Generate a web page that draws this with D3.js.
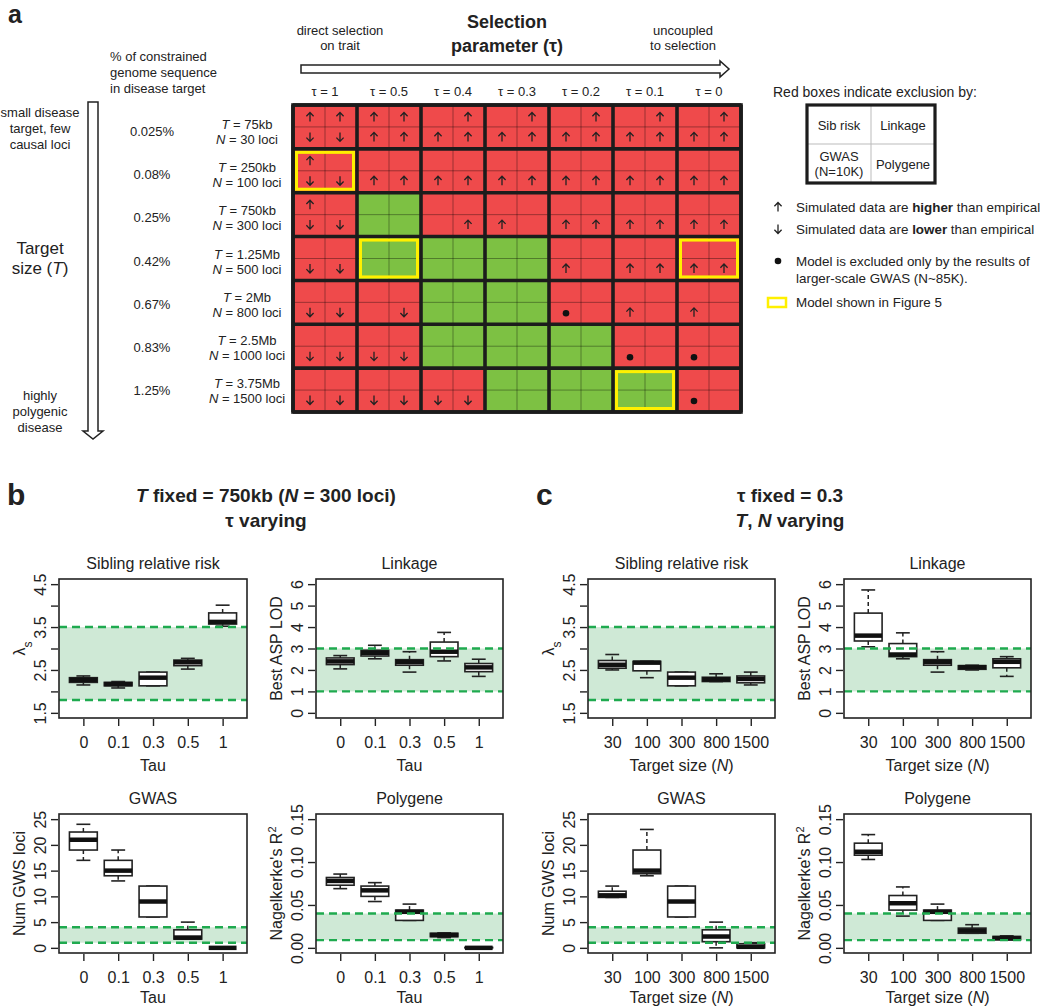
<!DOCTYPE html>
<html><head><meta charset="utf-8">
<script src="https://cdn.jsdelivr.net/npm/d3@7"></script>
<style>
body{margin:0;background:#fff}
text{font-family:"Liberation Sans",Arial,Helvetica,sans-serif;fill:#222}
</style>
</head><body>
<svg id="chart" width="1050" height="1006" xmlns="http://www.w3.org/2000/svg"></svg>
<script>
// ---------------- DATA ----------------
// Panel a
const taus = ["1","0.5","0.4","0.3","0.2","0.1","0"];
const pctLabels = ["0.025%","0.08%","0.25%","0.42%","0.67%","0.83%","1.25%"];
const tLabels = ["75kb","250kb","750kb","1.25Mb","2Mb","2.5Mb","3.75Mb"];
const nLabels = ["30","100","300","500","800","1000","1500"];
// "G" = not excluded (green); otherwise red, 4 subcells: Sib risk, Linkage, GWAS, Polygene
// u = higher than empirical, d = lower, o = excluded only by larger GWAS, - = nothing
const cellCodes = [
  ["uudd","uuuu","-uuu","-uuu","-uuu","-uuu","-uuu"],
  ["u-dd","--uu","--uu","--uu","--uu","--uu","--uu"],
  ["u-dd","G",   "---u","--u-","--uu","--uu","--uu"],
  ["--dd","G",   "G",   "G",   "--u-","--uu","--uu"],
  ["--dd","---d","G",   "G",   "--o-","--u-","--u-"],
  ["--dd","--dd","G",   "G",   "G",   "--o-","--o-"],
  ["--dd","--dd","--dd","G",   "G",   "G",   "--o-"]
];
const fig5Models = [[1,0],[3,1],[3,6],[6,5]]; // [row, column]
const legendCells = [["Sib risk"],["Linkage"],["GWAS","(N=10K)"],["Polygene"]];

// Panels b, c : [lower whisker, Q1, median, Q3, upper whisker]
const tauTicks = ["0","0.1","0.3","0.5","1"];
const sizeTicks = ["30","100","300","800","1500"];

const bSibling = [[2.15,2.21,2.27,2.32,2.36],[2.08,2.13,2.17,2.21,2.23],[2.13,2.13,2.32,2.45,2.45],[2.52,2.60,2.68,2.73,2.77],[3.52,3.57,3.62,3.83,4.01]];
const bLinkage = [[2.05,2.25,2.40,2.56,2.67],[2.52,2.65,2.80,2.92,3.15],[1.90,2.22,2.37,2.48,2.85],[2.42,2.62,2.85,3.30,3.75],[1.70,1.92,2.12,2.30,2.50]];
const bGwas = [[17,19,21,22.5,24],[13,14,15,17,19],[6,6,9,12,12],[1.7,1.7,2,3.5,5],[0,0,0,0,0]];
const bPolygene = [[0.069,0.073,0.078,0.082,0.086],[0.054,0.060,0.067,0.072,0.076],[0.032,0.032,0.042,0.044,0.051],[0.012,0.013,0.015,0.017,0.0175],[0,0,0,0.0005,0.0005]];

const cSibling = [[2.50,2.54,2.62,2.72,2.86],[2.32,2.48,2.67,2.70,2.70],[2.13,2.13,2.32,2.45,2.45],[2.23,2.23,2.28,2.33,2.41],[2.15,2.20,2.29,2.36,2.45]];
const cLinkage = [[3.08,3.35,3.60,4.65,5.73],[2.52,2.62,2.72,3.23,3.73],[1.90,2.22,2.37,2.48,2.85],[2.00,2.03,2.13,2.20,2.22],[1.70,2.10,2.38,2.52,2.62]];
const cGwas = [[9.8,9.8,10.2,11,12],[14,14.4,15,19,23],[6,6,9,12,12],[0,1.2,2.2,3.5,5],[0,0,0.2,0.8,1]];
const cPolygene = [[0.103,0.108,0.112,0.122,0.132],[0.037,0.044,0.052,0.061,0.071],[0.032,0.032,0.042,0.044,0.051],[0.017,0.017,0.020,0.023,0.027],[0.0094,0.0094,0.0113,0.0133,0.014]];

const sibBand = [1.8,3.5], linkBand = [1,3], gwasBand = [1,4], polyBand = [0.009,0.04];
const sibDomain = [1.5,4.5], linkDomain = [0,6], gwasDomain = [0,25], polyDomain = [0,0.15];
const sibTicks = [1.5,2,2.5,3,3.5,4,4.5], sibTickLabels = ["1.5","","2.5","","3.5","","4.5"];
const linkTicks = [0,1,2,3,4,5,6], linkTickLabels = ["0","1","2","3","4","5","6"];
const gwasTicks = [0,5,10,15,20,25], gwasTickLabels = ["0","5","10","15","20","25"];
const polyTicks = [0,0.05,0.10,0.15], polyTickLabels = ["0.00","0.05","0.10","0.15"];

// ---------------- STYLE ----------------
const INK = "#222", RED = "#ef4a4b", GREEN = "#7dc143", YELLOW = "#fff000";
const BAND = "#cfe9d6", DASH = "#1faa4f";
const svg = d3.select("#chart");

function txt(g, x, y, s, opt = {}) {
  const t = g.append("text").attr("x", x).attr("y", y)
    .attr("font-size", opt.size || 13)
    .attr("text-anchor", opt.anchor || "middle");
  if (opt.weight) t.attr("font-weight", opt.weight);
  if (Array.isArray(s)) {
    s.forEach(p => {
      const sp = t.append("tspan").text(p.t);
      if (p.i) sp.attr("font-style", "italic");
      if (p.b) sp.attr("font-weight", "bold");
      if (p.sub) sp.attr("baseline-shift", "sub").attr("font-size", p.sub);
      if (p.sup) sp.attr("baseline-shift", "super").attr("font-size", p.sup);
    });
  } else t.text(s);
  return t;
}

function arrowGlyph(g, cx, cy, dir) {
  const s = dir === "u" ? -1 : 1;
  const tip = cy + 4.5 * s;
  g.append("path")
    .attr("d", `M${cx},${cy - 4.5 * s}L${cx},${tip}` +
               `M${cx - 3.6},${tip - 3.8 * s}L${cx},${tip}L${cx + 3.6},${tip - 3.8 * s}`)
    .attr("fill", "none").attr("stroke", INK).attr("stroke-width", 1.3);
}

// ---------------- PANEL A ----------------
const A = svg.append("g");
txt(A, 8, 23, "a", {size: 25, weight: "bold", anchor: "start"});

const gx = d3.scaleBand().domain(taus).range([293, 741]);
const gy = d3.scaleBand().domain(tLabels).range([105, 412]);
const labelY = d3.scaleBand().domain(tLabels).range([109, 412]);
const cw = gx.bandwidth(), ch = gy.bandwidth();

// header
txt(A, 507, 28, "Selection", {size: 18, weight: "bold"});
txt(A, 507, 52, "parameter (τ)", {size: 18, weight: "bold"});
txt(A, 340, 35, "direct selection", {size: 13});
txt(A, 340, 50, "on trait", {size: 13});
txt(A, 683, 35, "uncoupled", {size: 13});
txt(A, 683, 50, "to selection", {size: 13});
A.append("path").attr("d", "M301,65L720,65L720,61L729,69L720,77L720,73L301,73Z")
  .attr("fill", "#fff").attr("stroke", INK).attr("stroke-width", 1.5);
taus.forEach(t => txt(A, gx(t) + cw / 2, 96, "τ = " + t, {size: 13}));

// left labels
["% of constrained", "genome sequence", "in disease target"].forEach((s, i) =>
  txt(A, 110, 61 + i * 16, s, {size: 13, anchor: "start"}));
["small disease", "target, few", "causal loci"].forEach((s, i) =>
  txt(A, 40, 117 + i * 16, s, {size: 13}));
txt(A, 40, 254, "Target", {size: 17});
txt(A, 40, 274, [{t: "size ("}, {t: "T", i: true}, {t: ")"}], {size: 17});
["highly", "polygenic", "disease"].forEach((s, i) =>
  txt(A, 40, 400 + i * 16, s, {size: 13}));
A.append("path").attr("d", "M88,102L98,102L98,431L103,431L93,439L83,431L88,431Z")
  .attr("fill", "#fff").attr("stroke", INK).attr("stroke-width", 1.5);

tLabels.forEach((t, i) => {
  const cy = labelY(t) + labelY.bandwidth() / 2;
  txt(A, 152, cy + 5, pctLabels[i], {size: 13});
  txt(A, 247, cy - 2, [{t: "T", i: true}, {t: " = " + t}], {size: 13});
  txt(A, 247, cy + 13, [{t: "N", i: true}, {t: " = " + nLabels[i] + " loci"}], {size: 13});
});

// cells
const grid = A.append("g");
cellCodes.forEach((row, ri) => row.forEach((code, ci) => {
  const x = gx(taus[ci]), y = gy(tLabels[ri]);
  const green = code === "G";
  grid.append("rect").attr("x", x).attr("y", y).attr("width", cw).attr("height", ch)
    .attr("fill", green ? GREEN : RED);
  grid.append("line").attr("x1", x + cw / 2).attr("x2", x + cw / 2).attr("y1", y).attr("y2", y + ch)
    .attr("stroke", "rgba(0,0,0,0.35)").attr("stroke-width", 1);
  grid.append("line").attr("x1", x).attr("x2", x + cw).attr("y1", y + ch / 2).attr("y2", y + ch / 2)
    .attr("stroke", "rgba(0,0,0,0.35)").attr("stroke-width", 1);
  if (!green) code.split("").forEach((m, k) => {
    const cx = x + (k % 2 + 0.5) * cw / 2 + (k % 2 ? -1 : 1);
    const cy = y + (Math.floor(k / 2) + 0.5) * ch / 2 + (k < 2 ? 1 : -1);
    if (m === "u" || m === "d") arrowGlyph(grid, cx, cy, m);
    else if (m === "o") grid.append("circle").attr("cx", cx).attr("cy", cy + 1).attr("r", 3.3).attr("fill", "#111");
  });
}));
// thick borders
const gxEdges = taus.map(t => gx(t)).concat([gx.range()[1]]);
const gyEdges = tLabels.map(t => gy(t)).concat([gy.range()[1]]);
gxEdges.forEach(xx => grid.append("line").attr("x1", xx).attr("x2", xx).attr("y1", 105).attr("y2", 412)
  .attr("stroke", "#1c1c1c").attr("stroke-width", 3.6));
gyEdges.forEach(yy => grid.append("line").attr("x1", 293).attr("x2", 741).attr("y1", yy).attr("y2", yy)
  .attr("stroke", "#1c1c1c").attr("stroke-width", 3.6));
grid.append("rect").attr("x", 293).attr("y", 105).attr("width", 448).attr("height", 307)
  .attr("fill", "none").attr("stroke", "#1c1c1c").attr("stroke-width", 3.6);
fig5Models.forEach(([r, c]) => {
  grid.append("rect").attr("x", gx(taus[c]) + 3.5).attr("y", gy(tLabels[r]) + 3.5)
    .attr("width", cw - 7).attr("height", ch - 7)
    .attr("fill", "none").attr("stroke", YELLOW).attr("stroke-width", 3);
});

// legend
const L = svg.append("g");
txt(L, 773, 97, "Red boxes indicate exclusion by:", {size: 14, anchor: "start"});
const lx = d3.scaleBand().domain([0, 1]).range([807, 935]);
const ly = d3.scaleBand().domain([0, 1]).range([105, 183]);
L.append("line").attr("x1", lx(1)).attr("x2", lx(1)).attr("y1", 105).attr("y2", 183).attr("stroke", "#bbb");
L.append("line").attr("x1", 807).attr("x2", 935).attr("y1", ly(1)).attr("y2", ly(1)).attr("stroke", "#bbb");
L.append("rect").attr("x", 807).attr("y", 105).attr("width", 128).attr("height", 78)
  .attr("fill", "none").attr("stroke", "#1c1c1c").attr("stroke-width", 3.2);
legendCells.forEach((lines, k) => {
  const cx = lx(k % 2) + lx.bandwidth() / 2, cy = ly(Math.floor(k / 2)) + ly.bandwidth() / 2;
  lines.forEach((s, j) => txt(L, cx, cy + 5 + (j - (lines.length - 1) / 2) * 15, s, {size: 13}));
});
arrowGlyph(L, 778, 207, "u");
txt(L, 796, 212, [{t: "Simulated data are "}, {t: "higher", b: true}, {t: " than empirical"}], {size: 13.4, anchor: "start"});
arrowGlyph(L, 778, 229, "d");
txt(L, 796, 234, [{t: "Simulated data are "}, {t: "lower", b: true}, {t: " than empirical"}], {size: 13.4, anchor: "start"});
L.append("circle").attr("cx", 778).attr("cy", 261).attr("r", 3.3).attr("fill", "#111");
txt(L, 796, 266, "Model is excluded only by the results of", {size: 13.4, anchor: "start"});
txt(L, 796, 283, "larger-scale GWAS (N~85K).", {size: 13.4, anchor: "start"});
L.append("rect").attr("x", 768).attr("y", 298).attr("width", 18).attr("height", 9)
  .attr("fill", "none").attr("stroke", YELLOW).attr("stroke-width", 2.5);
txt(L, 796, 307, "Model shown in Figure 5", {size: 13.4, anchor: "start"});

// ---------------- PANELS B, C ----------------
function boxPanel(o) {
  const g = svg.append("g");
  const x = d3.scaleLinear().domain([0.3, 5.7]).range([o.x0, o.x1]);
  const pad = (o.domain[1] - o.domain[0]) * 0.04;
  const y = d3.scaleLinear().domain([o.domain[0] - pad, o.domain[1] + pad]).range([o.y1, o.y0]);
  g.append("rect").attr("x", o.x0).attr("width", o.x1 - o.x0)
    .attr("y", y(o.band[1])).attr("height", y(o.band[0]) - y(o.band[1])).attr("fill", BAND);
  const hw = x(1.4) - x(1), sw = x(1.2) - x(1);
  o.data.forEach((s, i) => {
    const cx = x(i + 1);
    [[s[3], s[4]], [s[1], s[0]]].forEach(([a, b]) => {
      if (a !== b) g.append("line").attr("x1", cx).attr("x2", cx).attr("y1", y(a)).attr("y2", y(b))
        .attr("stroke", INK).attr("stroke-width", 1.5).attr("stroke-dasharray", "4,3");
    });
    [s[0], s[4]].forEach(v => g.append("line").attr("x1", cx - sw).attr("x2", cx + sw)
      .attr("y1", y(v)).attr("y2", y(v)).attr("stroke", INK).attr("stroke-width", 1.6));
    g.append("rect").attr("x", cx - hw).attr("width", 2 * hw)
      .attr("y", y(s[3])).attr("height", Math.max(0, y(s[1]) - y(s[3])))
      .attr("fill", "#fff").attr("stroke", INK).attr("stroke-width", 1.6);
    g.append("line").attr("x1", cx - hw).attr("x2", cx + hw).attr("y1", y(s[2])).attr("y2", y(s[2]))
      .attr("stroke", "#111").attr("stroke-width", 4.5);
  });
  o.band.forEach(v => g.append("line").attr("x1", o.x0).attr("x2", o.x1).attr("y1", y(v)).attr("y2", y(v))
    .attr("stroke", DASH).attr("stroke-width", 2.4).attr("stroke-dasharray", "8,5"));
  g.append("rect").attr("x", o.x0).attr("y", o.y0).attr("width", o.x1 - o.x0).attr("height", o.y1 - o.y0)
    .attr("fill", "none").attr("stroke", INK).attr("stroke-width", 1.6);

  // y axis
  const yg = g.append("g").attr("transform", `translate(${o.x0 - 1},0)`)
    .call(d3.axisLeft(y).tickValues(o.ticks).tickFormat((d, i) => o.tickLabels[i]).tickSize(7).tickSizeOuter(0));
  yg.select(".domain").remove();
  yg.attr("font-size", 16).attr("font-family", null).attr("color", INK);
  yg.selectAll("line").attr("stroke-width", 1.4);
  yg.selectAll("text").attr("x", null).attr("dy", null).attr("text-anchor", "middle")
    .attr("transform", "translate(-12,0) rotate(-90)");
  // x axis
  const xg = g.append("g").attr("transform", `translate(0,${o.y1 + 1})`)
    .call(d3.axisBottom(x).tickValues([1, 2, 3, 4, 5]).tickFormat(d => o.xTicks[d - 1]).tickSize(7).tickSizeOuter(0).tickPadding(11));
  xg.select(".domain").remove();
  xg.attr("font-size", 16).attr("font-family", null).attr("color", INK);
  xg.selectAll("line").attr("stroke-width", 1.4);

  const mx = (o.x0 + o.x1) / 2;
  txt(g, mx, o.y0 - 10, o.title, {size: 16});
  txt(g, mx, o.y1 + o.xTitleOff, o.xTitle, {size: 16});
  txt(g, o.x0 - 34, (o.y0 + o.y1) / 2, o.yTitle, {size: 16})
    .attr("transform", `rotate(-90,${o.x0 - 34},${(o.y0 + o.y1) / 2})`);
}

const TOP = [579, 718], BOT = [814, 953];
const tauTitle = "Tau";
const sizeTitle = [{t: "Target size ("}, {t: "N", i: true}, {t: ")"}];
const lamTitle = [{t: "λ"}, {t: "s", sub: 12}];
const r2Title = [{t: "Nagelkerke's R"}, {t: "2", sup: 11}];

const panels = [
  {x0: 59, x1: 247, y0: TOP[0], y1: TOP[1], data: bSibling, band: sibBand, domain: sibDomain, ticks: sibTicks, tickLabels: sibTickLabels, title: "Sibling relative risk", yTitle: lamTitle, xTicks: tauTicks, xTitle: tauTitle, xTitleOff: 53},
  {x0: 316, x1: 503, y0: TOP[0], y1: TOP[1], data: bLinkage, band: linkBand, domain: linkDomain, ticks: linkTicks, tickLabels: linkTickLabels, title: "Linkage", yTitle: "Best ASP LOD", xTicks: tauTicks, xTitle: tauTitle, xTitleOff: 53},
  {x0: 59, x1: 247, y0: BOT[0], y1: BOT[1], data: bGwas, band: gwasBand, domain: gwasDomain, ticks: gwasTicks, tickLabels: gwasTickLabels, title: "GWAS", yTitle: "Num GWS loci", xTicks: tauTicks, xTitle: tauTitle, xTitleOff: 50},
  {x0: 316, x1: 503, y0: BOT[0], y1: BOT[1], data: bPolygene, band: polyBand, domain: polyDomain, ticks: polyTicks, tickLabels: polyTickLabels, title: "Polygene", yTitle: r2Title, xTicks: tauTicks, xTitle: tauTitle, xTitleOff: 50},
  {x0: 588, x1: 775, y0: TOP[0], y1: TOP[1], data: cSibling, band: sibBand, domain: sibDomain, ticks: sibTicks, tickLabels: sibTickLabels, title: "Sibling relative risk", yTitle: lamTitle, xTicks: sizeTicks, xTitle: sizeTitle, xTitleOff: 53},
  {x0: 844, x1: 1031, y0: TOP[0], y1: TOP[1], data: cLinkage, band: linkBand, domain: linkDomain, ticks: linkTicks, tickLabels: linkTickLabels, title: "Linkage", yTitle: "Best ASP LOD", xTicks: sizeTicks, xTitle: sizeTitle, xTitleOff: 53},
  {x0: 588, x1: 775, y0: BOT[0], y1: BOT[1], data: cGwas, band: gwasBand, domain: gwasDomain, ticks: gwasTicks, tickLabels: gwasTickLabels, title: "GWAS", yTitle: "Num GWS loci", xTicks: sizeTicks, xTitle: sizeTitle, xTitleOff: 50},
  {x0: 844, x1: 1031, y0: BOT[0], y1: BOT[1], data: cPolygene, band: polyBand, domain: polyDomain, ticks: polyTicks, tickLabels: polyTickLabels, title: "Polygene", yTitle: r2Title, xTicks: sizeTicks, xTitle: sizeTitle, xTitleOff: 50}
];
panels.forEach(boxPanel);

// panel letters and titles
const H = svg.append("g");
txt(H, 7, 505, "b", {size: 30, weight: "bold", anchor: "start"});
txt(H, 536, 505, "c", {size: 30, weight: "bold", anchor: "start"});
txt(H, 266, 502, [{t: "T", i: true}, {t: " fixed = 750kb ("}, {t: "N", i: true}, {t: " = 300 loci)"}], {size: 19, weight: "bold"});
txt(H, 266, 527, "τ varying", {size: 19, weight: "bold"});
txt(H, 790, 502, "τ fixed = 0.3", {size: 19, weight: "bold"});
txt(H, 790, 527, [{t: "T", i: true}, {t: ", "}, {t: "N", i: true}, {t: " varying"}], {size: 19, weight: "bold"});
</script>
</body></html>
